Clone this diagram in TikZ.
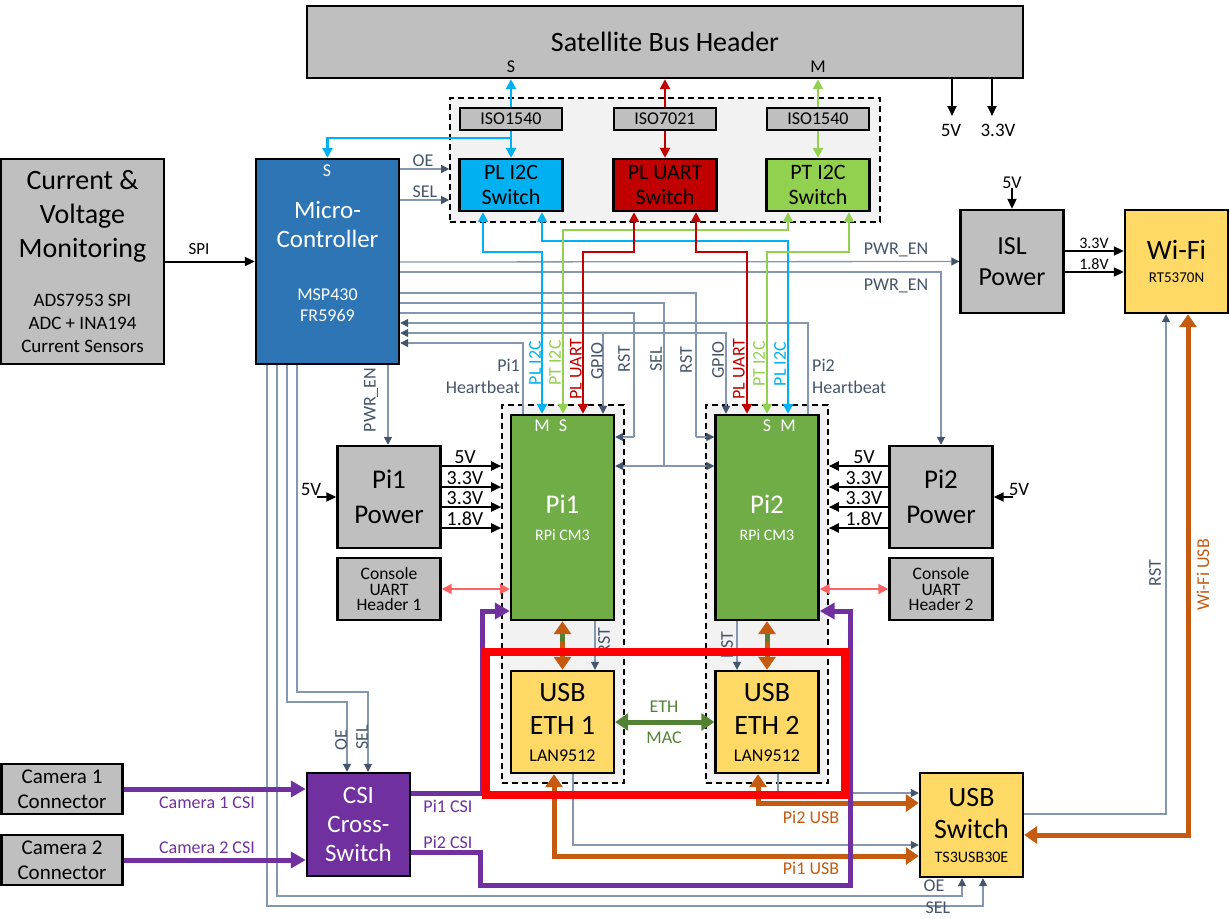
\documentclass[tikz,border=0pt]{standalone}
\usepackage{fontspec}
\setmainfont{Carlito}
\usetikzlibrary{arrows.meta}
\definecolor{boxgray}{HTML}{BFBFBF}
\definecolor{mcublue}{HTML}{2E75B6}
\definecolor{i2cblue}{HTML}{00B0F0}
\definecolor{uartred}{HTML}{C00000}
\definecolor{i2cgreen}{HTML}{92D050}
\definecolor{pigreen}{HTML}{70AD47}
\definecolor{ethyellow}{HTML}{FFD966}
\definecolor{csipurple}{HTML}{7030A0}
\definecolor{usborange}{HTML}{C55A11}
\definecolor{ethgreen}{HTML}{548235}
\definecolor{ctlline}{HTML}{8497B0}
\definecolor{ctltext}{HTML}{44546A}
\definecolor{conpink}{HTML}{FF6161}
\definecolor{grpfill}{HTML}{F2F2F2}
\definecolor{hlred}{HTML}{FF0000}
\newcommand\fsz[2]{\fontsize{#1}{#2}\selectfont}
\newcommand\smalltxt{\fontsize{18}{21}\selectfont}
\tikzset{
  ktip/.tip={Triangle[width=9pt,length=10pt]},
  ctip/.tip={Triangle[width=8pt,length=8pt,color=ctltext]},
  btip/.tip={Triangle[width=10pt,length=10pt]},
  otip/.tip={Triangle[width=17pt,length=13pt]},
  ptip/.tip={Triangle[width=16pt,length=15pt]},
  box/.style={draw=black, line width=2.4pt, align=center, inner sep=0pt},
  grp/.style={draw=black, dash pattern=on 6pt off 4pt, line width=1.6pt, fill=grpfill, inner sep=0pt},
  blk/.style={draw=black, line width=2pt, -ktip},
  ctl/.style={draw=ctlline, line width=1.3pt},
  bl/.style={draw=i2cblue, line width=2.6pt},
  rd/.style={draw=uartred, line width=2.6pt},
  gn/.style={draw=i2cgreen, line width=2.6pt},
  org/.style={draw=usborange, line width=5pt},
  pur/.style={draw=csipurple, line width=5pt},
  lbl/.style={inner sep=0pt, font=\fsz{18}{20}},
  clbl/.style={lbl, text=ctltext},
  plbl/.style={lbl, text=csipurple},
  olbl/.style={lbl, text=usborange},
  vlbl/.style={lbl, rotate=90}
}
\begin{document}
\begin{tikzpicture}[x=1pt,y=-1pt]
\useasboundingbox (0,0) rectangle (1230,918);

% ---------- groups ----------
\node[grp, minimum width=430pt, minimum height=124pt] (isogrp) at (665,160) {};
\node[grp, minimum width=122pt, minimum height=378pt] (g1) at (563,594) {};
\node[grp, minimum width=122pt, minimum height=378pt] (g2) at (767,594) {};

% ---------- boxes ----------
\node[box, fill=boxgray, minimum width=716pt, minimum height=72pt, font=\fsz{28}{32}] (hdr) at (665,42) {Satellite Bus Header};
\node[box, fill=boxgray, line width=2pt, minimum width=102pt, minimum height=22pt, font=\fsz{18}{20}] (iso1) at (511,118.5) {ISO1540};
\node[box, fill=boxgray, line width=2pt, minimum width=102pt, minimum height=22pt, font=\fsz{18}{20}] (iso2) at (665,118.5) {ISO7021};
\node[box, fill=boxgray, line width=2pt, minimum width=102pt, minimum height=22pt, font=\fsz{18}{20}] (iso3) at (818,118.5) {ISO1540};
\node[box, fill=i2cblue, minimum width=103pt, minimum height=52pt, font=\fsz{22}{25}] (swA) at (511,185) {PL I2C\\Switch};
\node[box, fill=uartred, minimum width=103pt, minimum height=52pt, font=\fsz{22}{25}] (swB) at (665,185) {PL UART\\Switch};
\node[box, fill=i2cgreen, minimum width=103pt, minimum height=52pt, font=\fsz{22}{25}] (swC) at (818,185) {PT I2C\\Switch};

\node[box, fill=mcublue, text=white, minimum width=143pt, minimum height=205pt, font=\fsz{25}{29}] (mcu) at (327.5,261.5)
  {Micro-\\Controller\\[24pt]\smalltxt MSP430\\[-8pt]\smalltxt FR5969};
\node[box, fill=boxgray, minimum width=163pt, minimum height=205pt, font=\fsz{28}{34}] (cvm) at (82.5,261.5)
  {Current \&\\Voltage\\Monitoring\\[15pt]\fsz{19}{23}ADS7953 SPI\\[-11pt]\fsz{19}{23}ADC + INA194\\[-11pt]\fsz{19}{23}Current Sensors};

\node[box, fill=boxgray, minimum width=103pt, minimum height=103pt, font=\fsz{26}{31}] (isl) at (1012,261.5) {ISL\\Power};
\node[box, fill=ethyellow, minimum width=103pt, minimum height=103pt, font=\fsz{28}{30}] (wifi) at (1176.5,261.5) {Wi-Fi\\[-7pt]\fsz{15}{22}RT5370N};

\node[box, fill=boxgray, minimum width=103pt, minimum height=102pt, font=\fsz{27}{35}] (pi1pwr) at (389,497) {Pi1\\Power};
\node[box, fill=boxgray, minimum width=103pt, minimum height=102pt, font=\fsz{27}{35}] (pi2pwr) at (941,497) {Pi2\\Power};
\node[box, fill=boxgray, minimum width=103pt, minimum height=62pt, font=\fsz{17.5}{15.5}] (con1) at (389,589) {Console\\UART\\Header 1};
\node[box, fill=boxgray, minimum width=103pt, minimum height=62pt, font=\fsz{17.5}{15.5}] (con2) at (941,589) {Console\\UART\\Header 2};

\node[box, fill=pigreen, text=white, minimum width=103pt, minimum height=205pt, font=\fsz{27}{30}] (pi1) at (562.5,517.5) {Pi1\\[-3pt]\fsz{16}{27}RPi CM3};
\node[box, fill=pigreen, text=white, minimum width=103pt, minimum height=205pt, font=\fsz{27}{30}] (pi2) at (767,517.5) {Pi2\\[-3pt]\fsz{16}{27}RPi CM3};
\node[box, fill=ethyellow, minimum width=103pt, minimum height=102pt, font=\fsz{28}{33}] (eth1) at (562.5,722) {USB\\ETH 1\\[-6pt]\fsz{18}{26}LAN9512};
\node[box, fill=ethyellow, minimum width=103pt, minimum height=102pt, font=\fsz{28}{33}] (eth2) at (767,722) {USB\\ETH 2\\[-6pt]\fsz{18}{26}LAN9512};

\node[box, fill=csipurple, text=white, minimum width=103pt, minimum height=103pt, font=\fsz{25}{29}] (csi) at (358.5,824.5) {CSI\\Cross-\\Switch};
\node[box, fill=boxgray, minimum width=121pt, minimum height=50pt, font=\fsz{21}{25}] (cam1) at (62,789) {Camera 1\\Connector};
\node[box, fill=boxgray, minimum width=121pt, minimum height=50pt, font=\fsz{21}{25}] (cam2) at (62,860) {Camera 2\\Connector};
\node[box, fill=ethyellow, minimum width=103pt, minimum height=104pt, font=\fsz{28}{32}] (usbsw) at (971.5,825) {USB\\Switch\\[-8pt]\fsz{16}{23}TS3USB30E};

% ---------- in-box small labels ----------
\node[lbl] (hS) at (511,67) {S};
\node[lbl] (hM) at (818,67) {M};
\node[lbl, text=white] (mcuS) at (327,171) {S};
\node[lbl, text=white] (p1M) at (542,426) {M};
\node[lbl, text=white] (p1S) at (563,426) {S};
\node[lbl, text=white] (p2S) at (767,426) {S};
\node[lbl, text=white] (p2M) at (788,426) {M};

% ---------- bus header links ----------
\draw[bl, -btip] (iso1.north) -- (iso1.north |- hdr.south);
\draw[bl, -btip] (iso1.south) -- (swA.north);
\draw[bl, -btip] (iso1.south |- 0,138) -| (mcu.north);
\draw[rd, -btip] (iso2.north) -- (iso2.north |- hdr.south);
\draw[rd, -btip] (iso2.south) -- (swB.north);
\draw[gn, -btip] (iso3.north) -- (iso3.north |- hdr.south);
\draw[gn, -btip] (iso3.south) -- (swC.north);

\node[lbl, font=\fsz{19}{20}] (h5v) at (951,130) {5V};
\node[lbl, font=\fsz{19}{20}] (h33v) at (998,130) {3.3V};
\coordinate (h5vend) at (952,116);
\coordinate (h33vend) at (992,116);
\draw[blk] (hdr.south -| h5vend) -- (h5vend);
\draw[blk] (hdr.south -| h33vend) -- (h33vend);

% ---------- MCU links ----------
\draw[blk] (cvm.east) -- (mcu.west);
\node[lbl, font=\fsz{17}{20}] (spi) at (199,249) {SPI};
\draw[ctl, -ctip] (mcu.east |- 0,169) -- (isogrp.west |- 0,169);
\draw[ctl, -ctip] (mcu.east |- 0,200) -- (isogrp.west |- 0,200);
\node[clbl] (oe1) at (423,161) {OE};
\node[clbl] (sel1) at (425,192) {SEL};

\draw[ctl, -ctip] (mcu.east |- 0,262) -- (isl.west);
\draw[ctl, -ctip] (mcu.east |- 0,272) -| (pi2pwr.north);
\node[clbl] (pwr1) at (896,250) {PWR\_EN};
\node[clbl] (pwr2) at (896,286) {PWR\_EN};

\draw[ctl] (mcu.east |- 0,293) -| (696,437);
\draw[ctl, -ctip] (696,437) -- (pi2.west |- 0,437);
\draw[ctl] (mcu.east |- 0,303) -| (664,466);
\draw[ctl, ctip-ctip] (pi1.east |- 0,466) -- (pi2.west |- 0,466);
\draw[ctl] (mcu.east |- 0,313) -| (634,437);
\draw[ctl, -ctip] (634,437) -- (pi1.east |- 0,437);
\draw[ctl, -ctip] (pi2.north -| 808,0) |- (mcu.east |- 0,323);
\draw[ctl, ctip-ctip] (mcu.east |- 0,333) -| (pi2.north -| 726,0);
\draw[ctl, -ctip] (603,333) -- (pi1.north -| 603,0);
\draw[ctl, -ctip] (pi1.north -| 523,0) |- (mcu.east |- 0,343);

% ---------- switch to Pi links ----------
\draw[bl, btip-btip] (483,0 |- swA.south) |- (542,252) -- (pi1.north -| 542,0);
\draw[bl, btip-btip] (542,0 |- swA.south) |- (788,241) -- (pi2.north -| 788,0);
\draw[gn, btip-btip] (788,0 |- swC.south) |- (563,230) -- (pi1.north -| 563,0);
\draw[gn, btip-btip] (849,0 |- swC.south) |- (767,252) -- (pi2.north -| 767,0);
\draw[rd, btip-btip] (634,0 |- swB.south) |- (583,252) -- (pi1.north -| 583,0);
\draw[rd, btip-btip] (696,0 |- swB.south) |- (747,252) -- (pi2.north -| 747,0);

\node[vlbl, text=i2cblue] (l1) at (535,363) {PL I2C};
\node[vlbl, text=i2cgreen] (l2) at (555,363) {PT I2C};
\node[vlbl, text=uartred] (l3) at (576,369) {PL UART};
\node[vlbl, text=ctltext] (l4) at (597,361) {GPIO};
\node[vlbl, text=ctltext] (l5) at (624,359) {RST};
\node[vlbl, text=ctltext] (l6) at (656,359) {SEL};
\node[vlbl, text=ctltext] (l7) at (686,360) {RST};
\node[vlbl, text=ctltext] (l8) at (718,360) {GPIO};
\node[vlbl, text=uartred] (l9) at (739,369) {PL UART};
\node[vlbl, text=i2cgreen] (l10) at (759,364) {PT I2C};
\node[vlbl, text=i2cblue] (l11) at (780,364) {PL I2C};
\node[clbl, align=right, anchor=east, font=\fsz{18}{22}] (hb1) at (520,376) {Pi1\\Heartbeat};
\node[clbl, align=left, anchor=west, font=\fsz{18}{22}] (hb2) at (812,376) {Pi2\\Heartbeat};

% ---------- MCU bottom ----------
\draw[ctl, -ctip] (mcu.south -| 388,0) -- (pi1pwr.north -| 388,0);
\node[vlbl, text=ctltext] (pwr3) at (371,400) {PWR\_EN};
\draw[ctl, -ctip] (mcu.south -| 297,0) |- (368,692) -- (csi.north -| 368,0);
\draw[ctl, -ctip] (mcu.south -| 287,0) |- (347,702) -- (csi.north -| 347,0);
\draw[ctl, -ctip] (mcu.south -| 277,0) |- (962,896) -- (usbsw.south -| 962,0);
\draw[ctl, -ctip] (mcu.south -| 267,0) |- (983,906) -- (usbsw.south -| 983,0);
\node[vlbl, text=ctltext] (oe2) at (341,740) {OE};
\node[vlbl, text=ctltext] (sel2) at (362,737) {SEL};
\node[clbl] (oe3) at (934,886) {OE};
\node[clbl] (sel3) at (938,908) {SEL};

% ---------- power ----------
\foreach \yy/\tt in {466/5V,487/3.3V,507/3.3V,528/1.8V}{
  \draw[blk] (pi1pwr.east |- 0,\yy) -- (g1.west |- 0,\yy);
  \node[lbl, font=\fsz{20}{20}, anchor=base] at (465,\yy-2.5) {\tt};
  \draw[blk] (pi2pwr.west |- 0,\yy) -- (g2.east |- 0,\yy);
  \node[lbl, font=\fsz{20}{20}, anchor=base] at (864,\yy-2.5) {\tt};
}
\coordinate (p1in) at (317,497);
\coordinate (p2in) at (1013,497);
\node[lbl, font=\fsz{19}{20}, anchor=base] (p1v) at (311,495) {5V};
\node[lbl, font=\fsz{19}{20}, anchor=base] (p2v) at (1019,495) {5V};
\draw[blk] (p1in) -- (pi1pwr.west |- p1in);
\draw[blk] (p2in) -- (pi2pwr.east |- p2in);

\node[lbl, anchor=base] (iv) at (1012,188) {5V};
\draw[blk] (iv.south) -- (isl.north);
\draw[blk] (isl.east |- 0,251) -- (wifi.west |- 0,251);
\draw[blk] (isl.east |- 0,272) -- (wifi.west |- 0,272);
\node[lbl, font=\fsz{16}{18}, anchor=base] (v33) at (1094,248) {3.3V};
\node[lbl, font=\fsz{16}{18}, anchor=base] (v18) at (1094,269) {1.8V};

% ---------- console ----------
\draw[draw=conpink, line width=2pt, {Triangle[width=10pt,length=10pt]}-{Triangle[width=10pt,length=10pt]}] (con1.east) -- (pi1.west |- con1.east);
\draw[draw=conpink, line width=2pt, {Triangle[width=10pt,length=10pt]}-{Triangle[width=10pt,length=10pt]}] (pi2.east |- con2.west) -- (con2.west);

% ---------- Pi to ETH ----------
\draw[ctl, -ctip] (pi1.south -| 595,0) -- (eth1.north -| 595,0);
\draw[ctl, -ctip] (pi2.south -| 737,0) -- (eth2.north -| 737,0);
\node[vlbl, text=ctltext] (r1) at (604,641) {RST};
\node[vlbl, text=ctltext] (r2) at (727,645) {RST};
\draw[org, otip-otip] (pi1.south) -- (eth1.north);
\draw[org, otip-otip] (pi2.south) -- (eth2.north);
\draw[draw=ethgreen, line width=5pt] (562.5,634) -- (562.5,642);
\draw[draw=ethgreen, line width=5pt] (767,634) -- (767,642);
\draw[draw=ethgreen, line width=5pt, otip-otip] (eth1.east) -- (eth2.west);
\node[lbl, text=ethgreen] (ethl) at (664,707) {ETH};
\node[lbl, text=ethgreen] (macl) at (664,738) {MAC};

% ---------- USB ----------
\draw[ctl, -ctip] (eth2.south -| 778,0) |- (usbsw.west |- 0,793);
\draw[ctl, -ctip] (eth1.south -| 573,0) |- (usbsw.west |- 0,845);
\draw[org, otip-otip] (eth2.south -| 758,0) |- (usbsw.west |- 0,803);
\draw[org, otip-otip] (eth1.south -| 554,0) |- (usbsw.west |- 0,856);
\node[olbl] (u2) at (811,817) {Pi2 USB};
\node[olbl] (u1) at (811,868) {Pi1 USB};
\draw[ctl, -ctip] (usbsw.east |- 0,814) -| (wifi.south -| 1166,0);
\draw[org, otip-otip] (wifi.south -| 1188,0) |- (usbsw.east |- 0,835);
\node[vlbl, text=ctltext] (wr) at (1155,573) {RST};
\node[vlbl, text=usborange] (wu) at (1203,575) {Wi-Fi USB};

% ---------- CSI ----------
\draw[pur, -ptip] (cam1.east) -- (csi.west |- cam1.east);
\draw[pur, -ptip] (cam2.east) -- (csi.west |- cam2.east);
\node[plbl] (c1) at (207,803) {Camera 1 CSI};
\node[plbl] (c2) at (207,848) {Camera 2 CSI};
\draw[pur, -ptip] (csi.east |- 0,793) -| (482,611) -- (pi1.west |- 0,611);
\draw[pur, -ptip] (csi.east |- 0,852) -| (480,885) -| (850,611) -- (pi2.east |- 0,611);
\node[plbl] (pc1) at (448,806) {Pi1 CSI};
\node[plbl] (pc2) at (448,842) {Pi2 CSI};

% ---------- highlight ----------
\node[draw=hlred, line width=8pt, minimum width=359pt, minimum height=143pt, inner sep=0pt] (hl) at (665.5,723.5) {};
\end{tikzpicture}
\end{document}
